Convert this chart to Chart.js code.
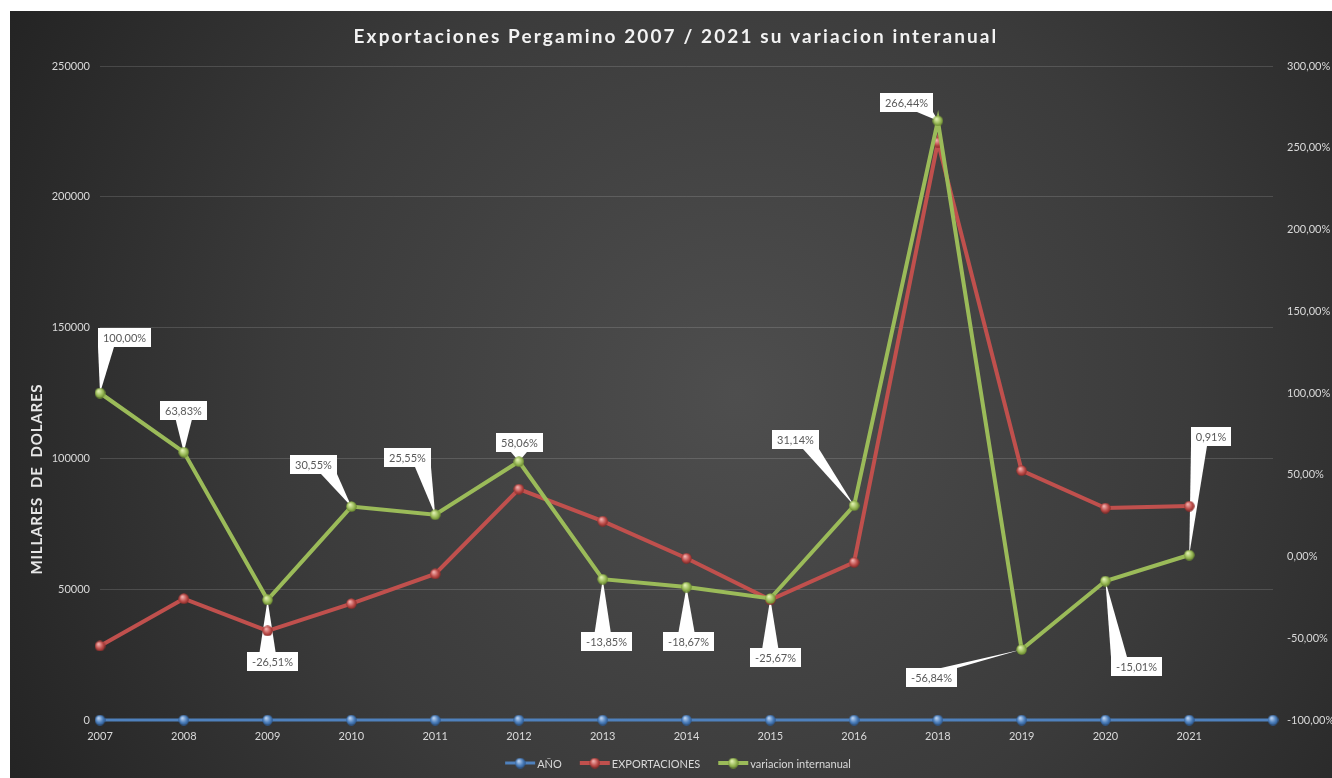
<!DOCTYPE html>
<html>
<head>
<meta charset="utf-8">
<script src="https://cdn.jsdelivr.net/npm/chart.js@4.4.1/dist/chart.umd.min.js"></script>
<style>
  html, body { margin: 0; padding: 0; background: #ffffff; }
  #wrap { position: absolute; left: 10px; top: 11px; width: 1322px; height: 767px; }
</style>
</head>
<body>
<div id="wrap"><canvas id="chart" width="1322" height="767"></canvas></div>
<script>
// --- Data ---
const categories = ['2007', '2008', '2009', '2010', '2011', '2012', '2013', '2014', '2015', '2016', '2018', '2019', '2020', '2021', ''];
const anio = [0, 0, 0, 0, 0, 0, 0, 0, 0, 0, 0, 0, 0, 0, 0];
const exportaciones = [28300, 46360, 34070, 44480, 55840, 88260, 76040, 61840, 45970, 60280, 220900, 95340, 81030, 81770, null];
const variacion = [100, 63.83, -26.51, 30.55, 25.55, 58.06, -13.85, -18.67, -25.67, 31.14, 266.44, -56.84, -15.01, 0.91, null];
const leftTicks = [0, 50000, 100000, 150000, 200000, 250000];
const rightTicks = [-100, -50, 0, 50, 100, 150, 200, 250, 300];

// callout box centre, relative to its point (px)
const labelOffsets = [[24, -56], [0, -42], [5, 62], [-38, -42], [-28, -57], [1, -19], [4, 62], [2, 54], [5, 59], [-59, -66], [-31, -18], [-90, 28], [31, 85], [22, -119]];

const FONT = "Lato, 'Open Sans', sans-serif";
const TEXT_COLOR = '#d9d9d9';
const COLORS = { anio: '#4f81bd', exp: '#c0504d', vari: '#9bbb59' };

function pct(v) {
    return v.toFixed(2).replace('.', ',') + '%';
}

// small shaded ball used as marker
function makeBall(color, light, dark) {
    const c = document.createElement('canvas');
    c.width = 11; c.height = 11;
    const g = c.getContext('2d');
    const grad = g.createRadialGradient(4, 3.5, 0.5, 5.5, 5.5, 6);
    grad.addColorStop(0, light);
    grad.addColorStop(0.55, color);
    grad.addColorStop(1, dark);
    g.fillStyle = grad;
    g.beginPath();
    g.arc(5.5, 5.5, 5.2, 0, Math.PI * 2);
    g.fill();
    return c;
}
const balls = {
    anio: makeBall('#4f81bd', '#b9d1f0', '#1f4a80'),
    exp: makeBall('#c0504d', '#f2b0ae', '#7a1f1c'),
    vari: makeBall('#9bbb59', '#e0f0b0', '#5b7a22')
};

// --- Background, title, axis title, legend and callouts ---
const chartDecor = {
    id: 'chartDecor',
    beforeDraw(chart) {
        const ctx = chart.ctx;
        const w = chart.width, h = chart.height;
        ctx.save();
        const grad = ctx.createRadialGradient(w * 0.55, h * 0.5, 0, w * 0.55, h * 0.5, w * 0.62);
        grad.addColorStop(0, '#4e4e4e');
        grad.addColorStop(0.55, '#3b3b3b');
        grad.addColorStop(1, '#242424');
        ctx.fillStyle = grad;
        ctx.fillRect(0, 0, w, h);

        // title
        ctx.fillStyle = '#f2f2f2';
        ctx.font = 'bold 19px ' + FONT;
        ctx.letterSpacing = '2.1px';
        ctx.textAlign = 'center';
        ctx.textBaseline = 'middle';
        ctx.fillText('Exportaciones Pergamino 2007 / 2021 su variacion interanual', 666, 26);
        ctx.letterSpacing = '0px';

        // left axis title
        ctx.translate(27, 468);
        ctx.rotate(-Math.PI / 2);
        ctx.font = 'bold 15px ' + FONT;
        ctx.letterSpacing = '0.8px';
        ctx.fillStyle = '#e6e6e6';
        ctx.fillText('MILLARES  DE  DOLARES', 0, 0);
        ctx.letterSpacing = '0px';
        ctx.setTransform(1, 0, 0, 1, 0, 0);

        // legend
        const items = [
            { label: 'AÑO', color: COLORS.anio, ball: balls.anio, lw: 3 },
            { label: 'EXPORTACIONES', color: COLORS.exp, ball: balls.exp, lw: 4 },
            { label: 'variacion internanual', color: COLORS.vari, ball: balls.vari, lw: 4 }
        ];
        ctx.font = '11px ' + FONT;
        let total = 0;
        items.forEach((it, i) => {
            it.tw = ctx.measureText(it.label).width;
            total += 30 + 2 + it.tw + (i < items.length - 1 ? 18 : 0);
        });
        let x = 668 - total / 2;
        const ly = 752;
        ctx.textAlign = 'left';
        items.forEach(it => {
            ctx.strokeStyle = it.color;
            ctx.lineWidth = it.lw;
            ctx.beginPath();
            ctx.moveTo(x, ly);
            ctx.lineTo(x + 30, ly);
            ctx.stroke();
            ctx.drawImage(it.ball, x + 15 - 5.5, ly - 5.5);
            ctx.fillStyle = TEXT_COLOR;
            ctx.fillText(it.label, x + 32, ly + 1);
            x += 30 + 2 + it.tw + 18;
        });
        ctx.restore();
    },
    beforeDatasetsDraw(chart) {
        // callout pointers
        const ctx = chart.ctx;
        const meta = chart.getDatasetMeta(2);
        ctx.save();
        ctx.font = '11px ' + FONT;
        ctx.fillStyle = '#ffffff';
        variacion.forEach((v, i) => {
            if (v === null) return;
            const p = meta.data[i];
            const b = boxFor(ctx, v, p, i);
            const below = p.y > b.y + b.h;
            const ey = below ? b.y + b.h : b.y;
            const hw = Math.min(8, b.w * 0.2);
            const cx = Math.max(b.x + hw, Math.min(b.x + b.w - hw, p.x));
            ctx.beginPath();
            ctx.moveTo(cx - hw, ey);
            ctx.lineTo(cx + hw, ey);
            ctx.lineTo(p.x, p.y);
            ctx.closePath();
            ctx.fill();
        });
        ctx.restore();
    },
    afterDatasetsDraw(chart) {
        // callout boxes
        const ctx = chart.ctx;
        const meta = chart.getDatasetMeta(2);
        ctx.save();
        ctx.font = '11px ' + FONT;
        ctx.textAlign = 'center';
        ctx.textBaseline = 'middle';
        variacion.forEach((v, i) => {
            if (v === null) return;
            const p = meta.data[i];
            const b = boxFor(ctx, v, p, i);
            ctx.fillStyle = '#ffffff';
            ctx.fillRect(b.x, b.y, b.w, b.h);
            ctx.fillStyle = '#595959';
            ctx.fillText(pct(v), b.x + b.w / 2, b.y + b.h / 2 + 0.5);
        });
        ctx.restore();
    }
};

function boxFor(ctx, v, p, i) {
    const tw = ctx.measureText(pct(v)).width;
    const w = Math.round(tw + 10), h = 19;
    const cx = p.x + labelOffsets[i][0];
    const cy = p.y + labelOffsets[i][1];
    return { x: Math.round(cx - w / 2), y: Math.round(cy - h / 2), w: w, h: h };
}

Chart.defaults.font.family = FONT;

new Chart(document.getElementById('chart'), {
    type: 'line',
    data: {
        labels: categories,
        datasets: [
            {
                label: 'AÑO',
                data: anio,
                yAxisID: 'y',
                borderColor: COLORS.anio,
                borderWidth: 3,
                pointStyle: balls.anio,
                clip: false,
                order: 2
            },
            {
                label: 'EXPORTACIONES',
                data: exportaciones,
                yAxisID: 'y',
                borderColor: COLORS.exp,
                borderWidth: 4,
                pointStyle: balls.exp,
                clip: false,
                order: 1
            },
            {
                label: 'variacion internanual',
                data: variacion,
                yAxisID: 'y1',
                borderColor: COLORS.vari,
                borderWidth: 4,
                pointStyle: balls.vari,
                clip: false,
                order: 0
            }
        ]
    },
    options: {
        responsive: false,
        animation: false,
        layout: { padding: { top: 55, left: 0, right: 0, bottom: 0 } },
        plugins: {
            legend: { display: false },
            title: { display: false },
            tooltip: { enabled: false }
        },
        scales: {
            x: {
                offset: false,
                grid: { display: false, drawTicks: false },
                border: { display: false },
                ticks: { color: TEXT_COLOR, font: { size: 11 }, padding: 10, maxRotation: 0, autoSkip: false },
                afterFit: s => { s.height = 58; }
            },
            y: {
                position: 'left',
                min: 0,
                max: 250000,
                afterBuildTicks: s => { s.ticks = leftTicks.map(v => ({ value: v })); },
                grid: { color: 'rgba(255,255,255,0.14)', drawTicks: false },
                border: { display: false },
                ticks: { color: TEXT_COLOR, font: { size: 11 }, padding: 10, callback: v => String(v) },
                afterFit: s => { s.width = 90; }
            },
            y1: {
                position: 'right',
                min: -100,
                max: 300,
                afterBuildTicks: s => { s.ticks = rightTicks.map(v => ({ value: v })); },
                grid: { drawOnChartArea: false, drawTicks: false },
                border: { display: false },
                ticks: { color: TEXT_COLOR, font: { size: 11 }, padding: 14, callback: v => pct(v) },
                afterFit: s => { s.width = 59; }
            }
        }
    },
    plugins: [chartDecor]
});
</script>
</body>
</html>
